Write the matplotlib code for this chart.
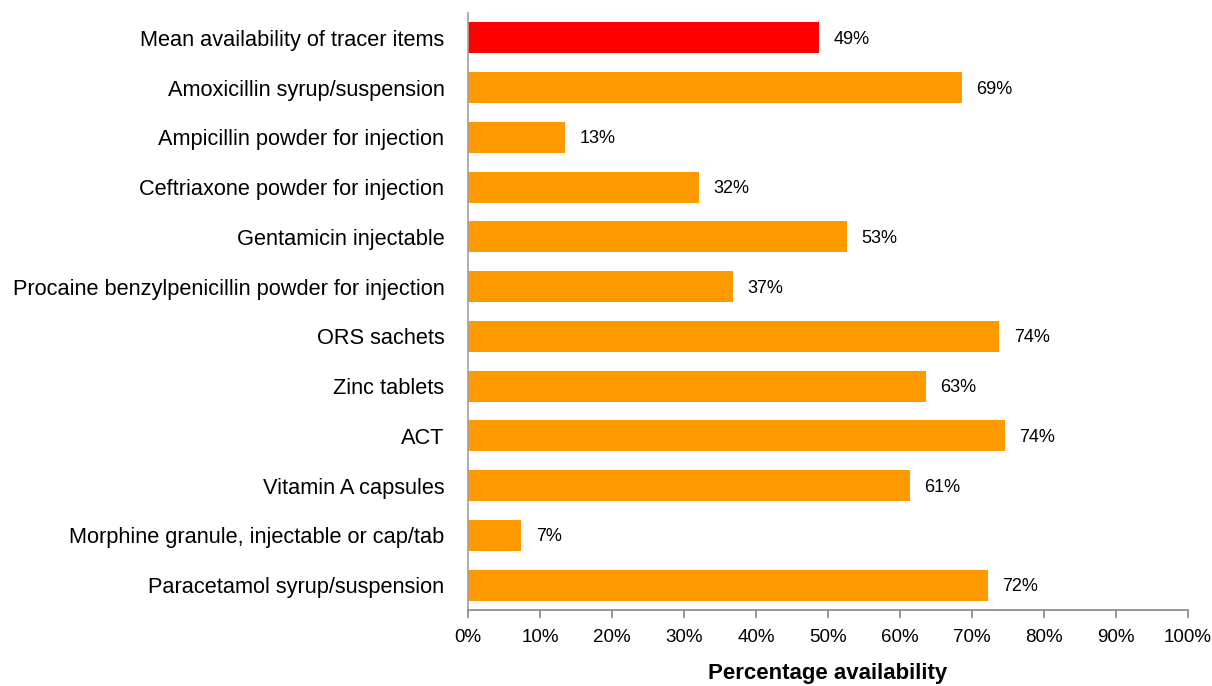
import matplotlib
matplotlib.use("Agg")
import matplotlib.pyplot as plt
from matplotlib.ticker import PercentFormatter

items = [
    "Mean availability of tracer items",
    "Amoxicillin syrup/suspension",
    "Ampicillin powder for injection",
    "Ceftriaxone powder for injection",
    "Gentamicin injectable",
    "Procaine benzylpenicillin powder for injection",
    "ORS sachets",
    "Zinc tablets",
    "ACT",
    "Vitamin A capsules",
    "Morphine granule, injectable or cap/tab",
    "Paracetamol syrup/suspension",
]
availability = [48.8, 68.6, 13.5, 32.1, 52.6, 36.8, 73.8, 63.6, 74.6, 61.4, 7.4, 72.2]
labels = ["49%", "69%", "13%", "32%", "53%", "37%", "74%", "63%", "74%", "61%", "7%", "72%"]
bar_colors = ["#FF0000"] + ["#FF9900"] * 11

plt.rcParams["font.family"] = ["Liberation Sans", "DejaVu Sans"]

fig = plt.figure(figsize=(12.12, 6.86), dpi=100)
ax = fig.add_axes([468 / 1212, 76 / 686, 720 / 1212, 597 / 686])

y = list(range(len(items)))
ax.barh(y, availability, height=0.62, color=bar_colors)
for yi, v, lab in zip(y, availability, labels):
    ax.text(v + 2.0, yi + 0.03, lab, va="center", ha="left", fontsize=13)

ax.set_ylim(len(items) - 0.5, -0.5)
ax.set_xlim(0, 100)
ax.set_yticks(y)
ax.set_yticklabels(items, fontsize=15.7)
ax.set_xticks(range(0, 101, 10))
ax.xaxis.set_major_formatter(PercentFormatter(decimals=0))
ax.tick_params(axis="x", labelsize=13.5, color="#888888", length=6, width=1.2, pad=8)
ax.tick_params(axis="y", length=0, pad=17)
for s in ["top", "right"]:
    ax.spines[s].set_visible(False)
ax.spines["left"].set_color("#A0A0A0")
ax.spines["bottom"].set_color("#888888")
ax.spines["left"].set_linewidth(1.2)
ax.spines["bottom"].set_linewidth(1.2)
ax.set_xlabel("Percentage availability", fontsize=16, fontweight="bold", labelpad=12)

fig.savefig("out.png", dpi=100)
